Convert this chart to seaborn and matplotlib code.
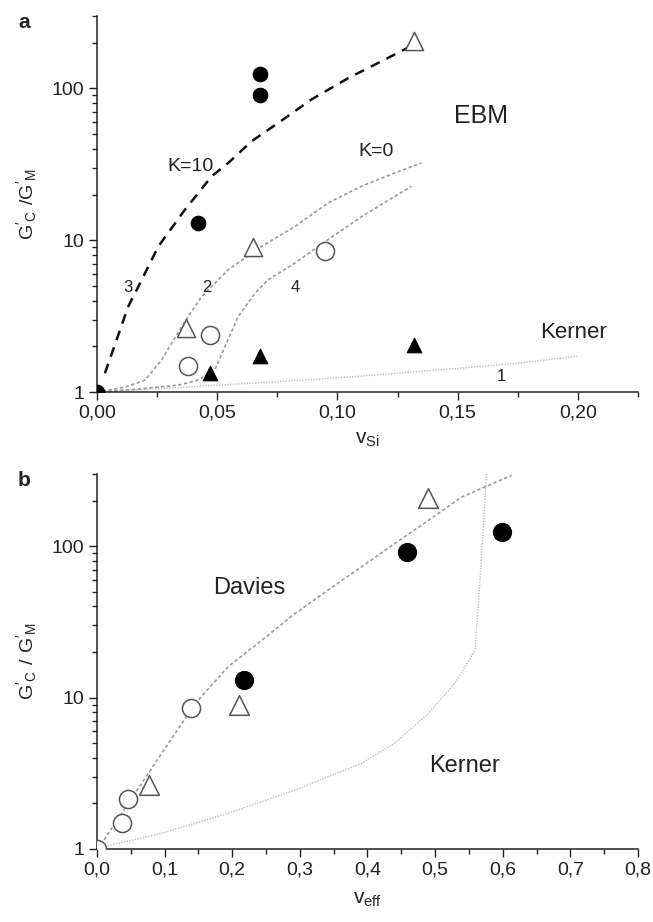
import numpy as np
import pandas as pd
import matplotlib
matplotlib.use("Agg")
import matplotlib.pyplot as plt
import seaborn as sns
from matplotlib.ticker import FuncFormatter, LogLocator, MultipleLocator, NullFormatter

sns.set_style("ticks")
plt.rcParams['font.family'] = ['Liberation Sans', 'DejaVu Sans']
plt.rcParams['mathtext.fontset'] = 'custom'
plt.rcParams['mathtext.rm'] = 'Liberation Sans'

# ---------------- Panel a data ----------------
a_filled_circ_x = [0.0, 0.042, 0.068, 0.068]
a_filled_circ_y = [1.0, 13.0, 124.0, 90.0]
a_open_tri_x = [0.132, 0.065, 0.037]
a_open_tri_y = [204.0, 9.0, 2.65]
a_open_circ_x = [0.038, 0.047, 0.095]
a_open_circ_y = [1.48, 2.38, 8.5]
a_filled_tri_x = [0.047, 0.068, 0.132]
a_filled_tri_y = [1.33, 1.73, 2.04]

curve3_x = [0.0033, 0.013, 0.0172, 0.0255, 0.0366, 0.0477, 0.0546, 0.0643, 0.0754, 0.0892, 0.1045, 0.1183, 0.1294, 0.132]
curve3_y = [1.33, 3.66, 4.95, 9.1, 15.9, 26.4, 32.3, 44.9, 59.3, 84.6, 117.0, 151.0, 186.0, 200.0]
curve2_x = [0.0, 0.0047, 0.012, 0.02, 0.0269, 0.0352, 0.0435, 0.0546, 0.0684, 0.0823, 0.0961, 0.11, 0.1239, 0.135]
curve2_y = [1.0, 1.03, 1.08, 1.2, 1.63, 2.7, 4.25, 6.4, 9.1, 12.3, 17.6, 22.7, 27.8, 32.3]
curve4_x = [0.0, 0.015, 0.0338, 0.042, 0.049, 0.0532, 0.0587, 0.0657, 0.0712, 0.0823, 0.0961, 0.11, 0.1308]
curve4_y = [1.0, 1.04, 1.11, 1.2, 1.4, 1.99, 3.14, 4.48, 5.5, 7.07, 10.1, 14.3, 22.7]
curve1_x = [0.0, 0.025, 0.05, 0.075, 0.1, 0.125, 0.15, 0.175, 0.2]
curve1_y = [1.0, 1.05, 1.11, 1.17, 1.24, 1.33, 1.43, 1.55, 1.72]

# ---------------- Panel b data ----------------
b_open_circ_x = [0.0, 0.037, 0.046, 0.139]
b_open_circ_y = [1.0, 1.48, 2.14, 8.6]
b_open_tri_x = [0.077, 0.21, 0.49]
b_open_tri_y = [2.64, 9.0, 207.0]
b_filled_circ_x = [0.218, 0.459, 0.599]
b_filled_circ_y = [13.0, 91.0, 124.0]

davies_x = [0.0, 0.007, 0.0463, 0.0956, 0.145, 0.194, 0.2435, 0.293, 0.342, 0.391, 0.44, 0.49, 0.539, 0.613]
davies_y = [1.0, 1.09, 2.0, 4.28, 9.1, 16.0, 23.9, 36.0, 51.4, 73.0, 104.0, 148.0, 211.0, 294.0]
kernerb_x = [0.0, 0.0118, 0.0956, 0.194, 0.293, 0.391, 0.44, 0.49, 0.529, 0.559, 0.564, 0.569, 0.576]
kernerb_y = [1.0, 1.04, 1.27, 1.72, 2.45, 3.68, 4.98, 7.85, 12.4, 20.5, 41.8, 89.4, 303.0]

fig = plt.figure(figsize=(6.53, 9.22), dpi=100)
axa = fig.add_axes([0.1485, 0.5748, 0.8285, 0.4078])
axb = fig.add_axes([0.1485, 0.0792, 0.8285, 0.4067])

GRAY = '#9a9a9a'
LGRAY = '#bdbdbd'
EDGE = '#555555'


def line(ax, x, y, **kw):
    sns.lineplot(x=x, y=y, ax=ax, sort=False, estimator=None, **kw)


def scat(ax, x, y, marker, filled, s):
    if filled:
        sns.scatterplot(x=x, y=y, ax=ax, marker=marker, s=s, color='black',
                        edgecolor='black', linewidth=0.8, zorder=5)
    else:
        sns.scatterplot(x=x, y=y, ax=ax, marker=marker, s=s, facecolor='white',
                        edgecolor=EDGE, linewidth=1.1, zorder=5)


# Panel a
line(axa, curve1_x, curve1_y, color=LGRAY, lw=1.0, linestyle=(0, (1, 1)))
line(axa, curve2_x, curve2_y, color=GRAY, lw=1.2, linestyle=(0, (2, 1.5)))
line(axa, curve4_x, curve4_y, color=GRAY, lw=1.2, linestyle=(0, (2, 1.5)))
line(axa, curve3_x, curve3_y, color='#111111', lw=1.8, linestyle=(0, (4, 3)))
scat(axa, a_filled_circ_x, a_filled_circ_y, 'o', True, 110)
scat(axa, a_open_tri_x, a_open_tri_y, '^', False, 170)
scat(axa, a_open_circ_x, a_open_circ_y, 'o', False, 170)
scat(axa, a_filled_tri_x, a_filled_tri_y, '^', True, 110)

# Panel b
line(axb, kernerb_x, kernerb_y, color=LGRAY, lw=1.0, linestyle=(0, (1, 1)))
line(axb, davies_x, davies_y, color=GRAY, lw=1.2, linestyle=(0, (2, 1.5)))
scat(axb, b_open_circ_x, b_open_circ_y, 'o', False, 170)
scat(axb, b_open_tri_x, b_open_tri_y, '^', False, 200)
scat(axb, b_filled_circ_x, b_filled_circ_y, 'o', True, 170)

for ax, xmax, xmaj, xmin, dec in [(axa, 0.225, 0.05, 0.025, 2), (axb, 0.8, 0.1, 0.05, 1)]:
    ax.set_yscale('log')
    ax.set_ylim(1, 300)
    ax.set_xlim(0, xmax)
    ax.xaxis.set_major_locator(MultipleLocator(xmaj))
    ax.xaxis.set_minor_locator(MultipleLocator(xmin))
    ax.xaxis.set_major_formatter(FuncFormatter(lambda v, p, d=dec: f"{v:.{d}f}".replace('.', ',')))
    ax.yaxis.set_major_locator(LogLocator(base=10, numticks=10))
    ax.yaxis.set_minor_locator(LogLocator(base=10, subs=np.arange(2, 10), numticks=20))
    ax.yaxis.set_minor_formatter(NullFormatter())
    ax.yaxis.set_major_formatter(FuncFormatter(lambda v, p: f"{v:g}"))
    ax.tick_params(axis='both', which='major', direction='out', length=6, width=1.0,
                   labelsize=14, colors='#222222', pad=3)
    ax.tick_params(axis='both', which='minor', direction='out', length=3.5, width=1.0,
                   colors='#222222')
    for sp in ['top', 'right']:
        ax.spines[sp].set_visible(False)
    for sp in ['left', 'bottom']:
        ax.spines[sp].set_color('#222222')
        ax.spines[sp].set_linewidth(1.1)
    ax.set_facecolor('white')

axa.set_xlabel(r"$\mathregular{v_{Si}}$", fontsize=15, labelpad=6, color='#222222')
axa.set_ylabel(r"$\mathregular{G'_C\ /G'_M}$", fontsize=14, labelpad=9, color='#222222')
axb.set_xlabel(r"$\mathregular{v_{eff}}$", fontsize=15, labelpad=8, color='#222222')
axb.set_ylabel(r"$\mathregular{G'_C\ /\ G'_M}$", fontsize=14, labelpad=9, color='#222222')

# panel letters
fig.text(18 / 653, 1 - 22 / 922, 'a', fontsize=15, fontweight='bold', va='center', color='#222222')
fig.text(18 / 653, 1 - 480 / 922, 'b', fontsize=15, fontweight='bold', va='center', color='#222222')

# annotations panel a
axa.text(0.039, 30.5, 'K=10', fontsize=14, ha='center', va='center', color='#222222')
axa.text(0.116, 38.4, 'K=0', fontsize=14, ha='center', va='center', color='#222222')
axa.text(0.1596, 66, 'EBM', fontsize=18, ha='center', va='center', color='#222222')
axa.text(0.0129, 4.9, '3', fontsize=12, ha='center', va='center', color='#222222')
axa.text(0.0456, 4.9, '2', fontsize=12, ha='center', va='center', color='#222222')
axa.text(0.0823, 4.9, '4', fontsize=12, ha='center', va='center', color='#222222')
axa.text(0.198, 2.47, 'Kerner', fontsize=16, ha='center', va='center', color='#222222')
axa.text(0.168, 1.27, '1', fontsize=12, ha='center', va='center', color='#222222')

# annotations panel b
axb.text(0.225, 53, 'Davies', fontsize=17, ha='center', va='center', color='#222222')
axb.text(0.544, 3.55, 'Kerner', fontsize=17, ha='center', va='center', color='#222222')

fig.savefig('out.png', dpi=100, facecolor='white')
